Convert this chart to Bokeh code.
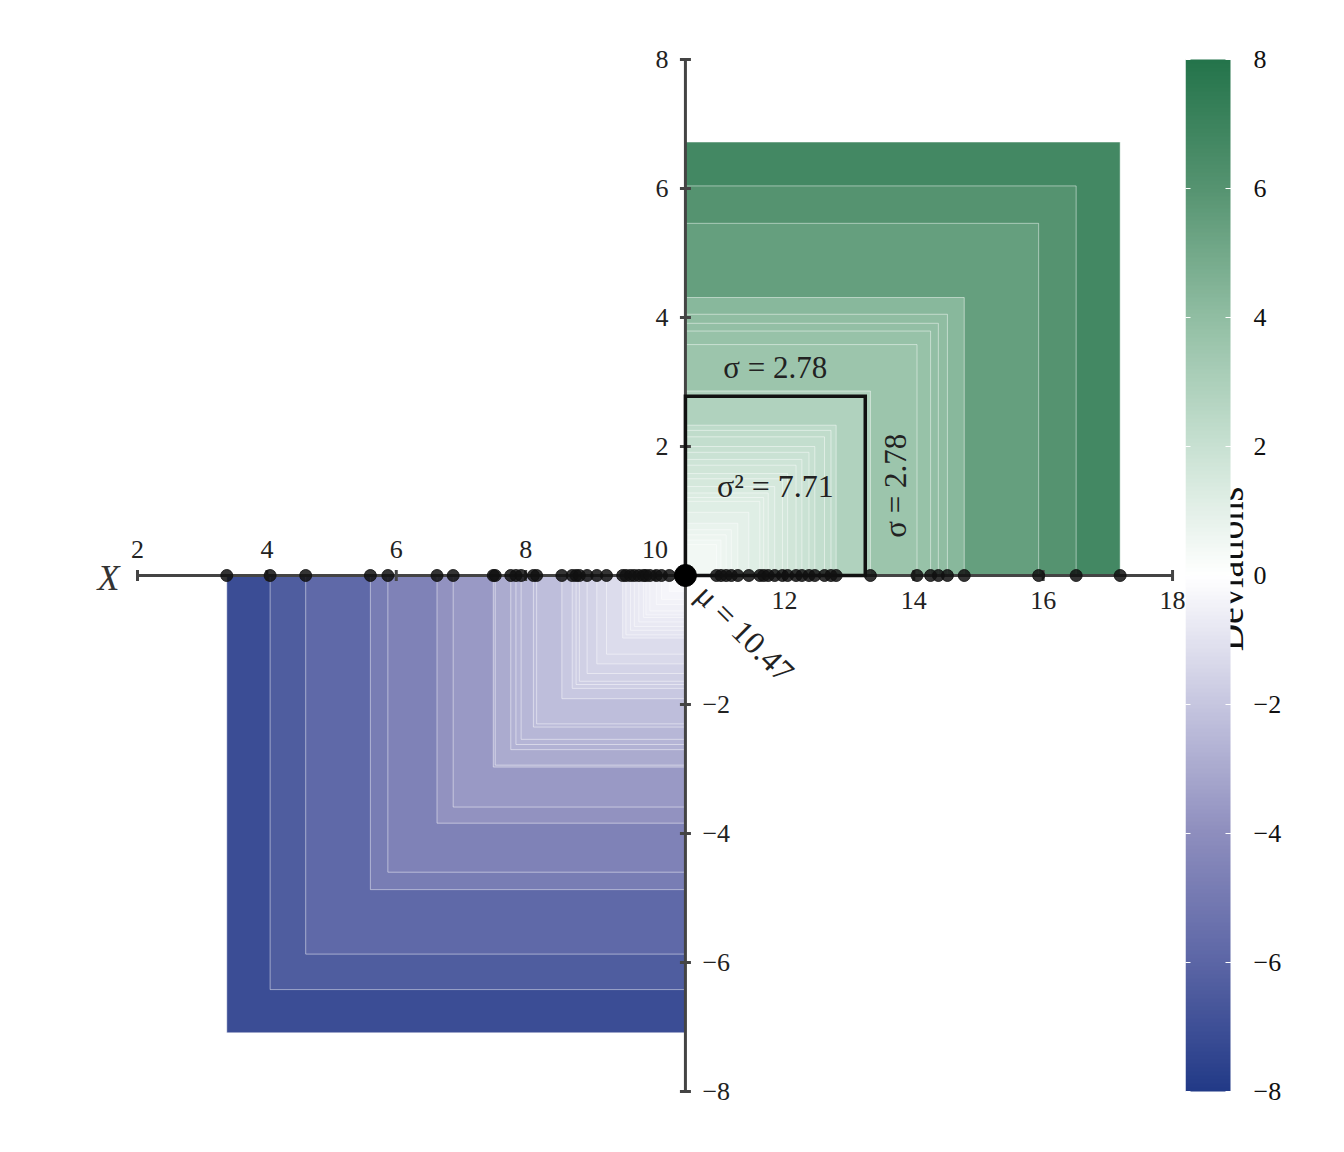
import numpy as np
from bokeh.plotting import figure
from bokeh.layouts import row
from bokeh.models import ColumnDataSource, LinearColorMapper
from bokeh.transform import linear_cmap
from bokeh.core.properties import value
from bokeh.embed import file_html
from bokeh.resources import INLINE

# ---------------- data ----------------
values_below_mean = [3.38, 4.05, 4.60, 5.60, 5.87, 6.63, 6.88, 7.50, 7.53, 7.77, 7.85,
                     7.93, 8.12, 8.17, 8.56, 8.72, 8.78, 8.83, 8.95, 9.10, 9.25, 9.50,
                     9.55, 9.62, 9.68, 9.75, 9.82, 9.86, 9.92, 10.02, 10.10, 10.22]
values_above_mean = [10.95, 11.02, 11.10, 11.18, 11.28, 11.45, 11.62, 11.68, 11.75,
                     11.85, 11.97, 12.05, 12.18, 12.27, 12.38, 12.47, 12.62, 12.72,
                     12.80, 13.33, 14.05, 14.26, 14.38, 14.52, 14.78, 15.93, 16.51, 17.19]
MEAN = 10.47
SIGMA = 2.78
VARIANCE = 7.71
x_ticks = [2, 4, 6, 8, 10, 12, 14, 16, 18]
y_ticks = [-8, -6, -4, -2, 2, 4, 6, 8]
cbar_ticks = [-8, -6, -4, -2, 0, 2, 4, 6, 8]
CBAR_LOW, CBAR_HIGH = -8, 8

# ---------------- colormap ----------------
anchor_vals = [-8, -6, -4, -2, 0, 2, 4, 6, 8]
anchor_rgb = [(34, 58, 135), (92, 102, 166), (142, 142, 190), (198, 198, 224),
              (255, 255, 255), (200, 225, 210), (145, 190, 163), (86, 148, 113),
              (36, 116, 75)]
grid_v = np.linspace(CBAR_LOW, CBAR_HIGH, 256)
arr = np.array(anchor_rgb, dtype=float)
chan = [np.interp(grid_v, anchor_vals, arr[:, k]) for k in range(3)]
palette = ["#%02x%02x%02x" % (int(round(r)), int(round(g)), int(round(b)))
           for r, g, b in zip(*chan)]

FONT = value("Liberation Serif")
AX_COL = "#444444"

# ---------------- main figure ----------------
px_per_x = 64.69
x_start = 2 - 137 / px_per_x
W_MAIN = 1185
x_end = x_start + W_MAIN / px_per_x
px_per_y = 64.5
H = 1144
y_end = 8 + 59 / px_per_y
y_start = y_end - H / px_per_y

p = figure(width=W_MAIN, height=H, x_range=(x_start, x_end), y_range=(y_start, y_end),
           toolbar_location=None, output_backend="svg", min_border=0,
           x_axis_location=None, y_axis_location=None, outline_line_color=None)
p.xgrid.visible = False
p.ygrid.visible = False

vals = np.array(values_below_mean + values_above_mean)
dev = vals - MEAN
order = np.argsort(-np.abs(dev))
sq = ColumnDataSource(dict(
    left=np.minimum(vals, MEAN)[order], right=np.maximum(vals, MEAN)[order],
    bottom=np.minimum(dev, 0)[order], top=np.maximum(dev, 0)[order], dev=dev[order]))
p.quad(left="left", right="right", bottom="bottom", top="top", source=sq,
       fill_color=linear_cmap("dev", palette, CBAR_LOW, CBAR_HIGH),
       line_color="white", line_alpha=0.6, line_width=0.8)

# axes (spines through the centre)
p.segment(x0=[min(x_ticks)], y0=[0], x1=[max(x_ticks)], y1=[0], line_color=AX_COL, line_width=3)
p.segment(x0=[MEAN], y0=[min(y_ticks)], x1=[MEAN], y1=[max(y_ticks)], line_color=AX_COL, line_width=3)
p.scatter(x=x_ticks, y=[0] * len(x_ticks), marker="dash", angle=np.pi / 2, size=11,
          line_color=AX_COL, line_width=3)
p.scatter(x=[MEAN] * len(y_ticks), y=y_ticks, marker="dash", size=11,
          line_color=AX_COL, line_width=3)

# sigma square
p.quad(left=[MEAN], right=[MEAN + SIGMA], bottom=[0], top=[SIGMA], fill_alpha=0,
       line_color="#111111", line_width=3.5, line_join="miter")

# data points
p.scatter(x=vals, y=np.zeros_like(vals), size=12, color="#111111", alpha=0.85)
p.scatter(x=[MEAN], y=[0], size=22, color="#000000")

# tick labels
xl_lo = [t for t in x_ticks if t < MEAN]
xl_hi = [t for t in x_ticks if t > MEAN]
p.text(x=xl_lo, y=[0] * len(xl_lo), text=[str(t) for t in xl_lo], text_align="center",
       text_baseline="middle", y_offset=-26, text_font=FONT, text_font_size="26px",
       text_color="#222222")
p.text(x=xl_hi, y=[0] * len(xl_hi), text=[str(t) for t in xl_hi], text_align="center",
       text_baseline="middle", y_offset=25, text_font=FONT, text_font_size="26px",
       text_color="#222222")
yl_pos = [t for t in y_ticks if t > 0]
yl_neg = [t for t in y_ticks if t < 0]
p.text(x=[MEAN] * len(yl_pos), y=yl_pos, text=[str(t) for t in yl_pos], text_align="right",
       text_baseline="middle", x_offset=-17, text_font=FONT, text_font_size="26px",
       text_color="#222222")
p.text(x=[MEAN] * len(yl_neg), y=yl_neg, text=[str(t).replace("-", "\u2212") for t in yl_neg],
       text_align="left", text_baseline="middle", x_offset=17, text_font=FONT,
       text_font_size="26px", text_color="#222222")

# axis name
p.text(x=[min(x_ticks)], y=[0], text=["X"], text_align="center", text_baseline="middle",
       x_offset=-29, y_offset=2, text_font=FONT, text_font_style="italic",
       text_font_size="36px", text_color="#333333")

# annotations
p.text(x=[MEAN + SIGMA / 2], y=[SIGMA], text=[f"\u03c3 = {SIGMA:.2f}"], text_align="center",
       text_baseline="alphabetic", y_offset=-29, text_font=FONT, text_font_size="31px",
       text_color="#222222")
p.text(x=[MEAN + SIGMA / 2], y=[SIGMA / 2], text=[f"\u03c3\u00b2 = {VARIANCE:.2f}"],
       text_align="center", text_baseline="middle", text_font=FONT, text_font_size="32px",
       text_color="#222222")
p.text(x=[MEAN + SIGMA], y=[SIGMA / 2], text=[f"\u03c3 = {SIGMA:.2f}"], text_align="center",
       text_baseline="middle", x_offset=30, angle=np.pi / 2, text_font=FONT,
       text_font_size="31px", text_color="#222222")
p.text(x=[MEAN], y=[0], text=[f"\u03bc = {MEAN:.2f}"], text_align="left",
       text_baseline="middle", x_offset=16, y_offset=14, angle=-np.pi / 4, text_font=FONT,
       text_font_size="32px", text_color="#222222")

# ---------------- colour bar ----------------
BAR_PX = 45
W_CB = 151
cb = figure(width=W_CB, height=H, x_range=(0, W_CB / BAR_PX), y_range=(y_start, y_end),
            toolbar_location=None, output_backend="svg", min_border=0,
            x_axis_location=None, y_axis_location=None, outline_line_color=None)
cb.xgrid.visible = False
cb.ygrid.visible = False
cb.text(x=[44 / BAR_PX], y=[0.1], text=["Deviations"], angle=np.pi / 2, text_align="center",
        text_baseline="alphabetic", text_font=FONT, text_font_size="38px", text_color="#111111")
grad = np.linspace(CBAR_LOW, CBAR_HIGH, 512).reshape(-1, 1)
cb.image(image=[grad], x=0, y=CBAR_LOW, dw=1, dh=CBAR_HIGH - CBAR_LOW,
         color_mapper=LinearColorMapper(palette=palette, low=CBAR_LOW, high=CBAR_HIGH))
cb.scatter(x=[0] * len(cbar_ticks), y=cbar_ticks, marker="dash", size=10,
           line_color="white", line_width=1)
cb.scatter(x=[1] * len(cbar_ticks), y=cbar_ticks, marker="dash", size=10,
           line_color="white", line_width=1)
cb.text(x=[68 / BAR_PX] * len(cbar_ticks), y=cbar_ticks,
        text=[str(t).replace("-", "\u2212") for t in cbar_ticks], text_align="left",
        text_baseline="middle", text_font=FONT, text_font_size="26px", text_color="#111111")

layout = row(p, cb)
open("out.html", "w").write(file_html(layout, INLINE))
